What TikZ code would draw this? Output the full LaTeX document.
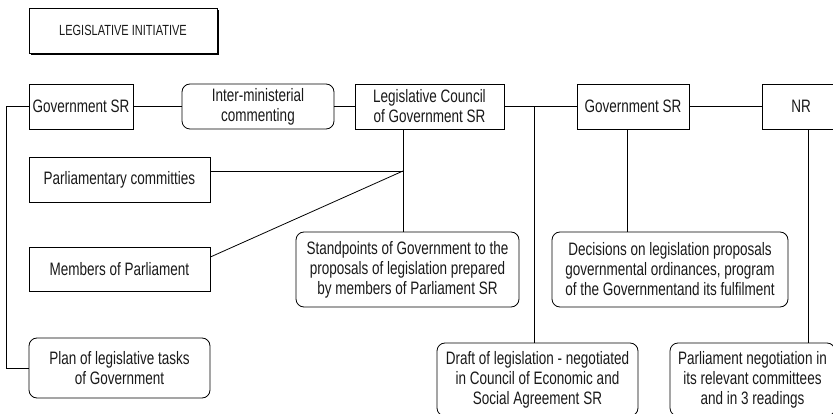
\documentclass[tikz,border=0pt]{standalone}
\usepackage{fontspec}
\setmainfont[FakeStretch=0.75]{Liberation Sans}
\usetikzlibrary{calc}
\begin{document}
\begin{tikzpicture}[x=1pt,y=-1pt,
  box/.style={draw, line width=0.8pt, inner sep=0pt, align=center,
    font=\fontsize{18}{20}\selectfont, text=black!90},
  rbox/.style={box, rounded corners=8pt},
  conn/.style={draw, line width=0.8pt}]
\useasboundingbox (0,0) rectangle (833,414);
\clip (0,0) rectangle (833,414);
% title with shadow
\fill[black] (31,10) rectangle (219,55);
\node[box, fill=white, minimum width=188pt, minimum height=45pt,
  font=\fontsize{14.7}{18}\selectfont] (title) at (123,30.5) {LEGISLATIVE INITIATIVE};
% top row
\node[box, minimum width=104pt, minimum height=45pt] (gov1) at (81,106.5) {Government SR};
\node[rbox, minimum width=152pt, minimum height=45pt] (inter) at (258,106.5) {Inter-ministerial\\commenting};
\node[box, minimum width=149pt, minimum height=45pt] (lc) at (429.5,106.5) {Legislative Council\\of Government SR};
\node[box, minimum width=112pt, minimum height=45pt] (gov2) at (633,106.5) {Government SR};
\node[box, minimum width=78pt, minimum height=45pt] (nr) at (801,106.5) {NR};
% left column
\node[box, minimum width=181pt, minimum height=45pt] (pc) at (119.5,179.5) {Parliamentary committies};
\node[box, minimum width=181pt, minimum height=44pt] (mp) at (119.5,269) {Members of Parliament};
\node[rbox, minimum width=181pt, minimum height=60pt] (plan) at (119.5,368) {Plan of legislative tasks\\of Government};
% middle row
\node[rbox, minimum width=223pt, minimum height=75pt] (stand) at (407.5,269.5) {Standpoints of Government to the\\proposals of legislation prepared\\by members of Parliament SR};
\node[rbox, minimum width=236pt, minimum height=75pt] (dec) at (670,269.5) {Decisions on legislation proposals\\governmental ordinances, program\\of the Governmentand its fulfilment};
% bottom row
\node[rbox, minimum width=201pt, minimum height=73pt] (draft) at (537.5,379.5) {Draft of legislation - negotiated\\in Council of Economic and\\Social Agreement SR};
\node[rbox, minimum width=165pt, minimum height=73pt] (parl) at (752.5,379.5) {Parliament negotiation in\\its relevant committees\\and in 3 readings};
% junctions
\coordinate (j1) at (403,171);
\coordinate (j2) at (534,106.5);
% connectors
\draw[conn] (gov1.west) -- ++(-22,0) |- (plan.west);
\draw[conn] (gov1.east) -- (inter.west);
\draw[conn] (inter.east) -- (lc.west);
\draw[conn] (lc.south -| j1) -- (stand.north -| j1);
\draw[conn] (j1 -| pc.east) -- (j1);
\draw[conn] ($(mp.east)+(0,-12)$) -- (j1);
\draw[conn] (lc.east) -- (gov2.west);
\draw[conn] (j2) -- (j2 |- draft.north);
\draw[conn] (gov2.east) -- (nr.west);
\draw[conn] ($(gov2.south)+(-6,0)$) -- ($(gov2.south |- dec.north)+(-6,0)$);
\draw[conn] ($(nr.south)+(7,0)$) -- ($(nr.south |- parl.north)+(7,0)$);
\end{tikzpicture}
\end{document}
